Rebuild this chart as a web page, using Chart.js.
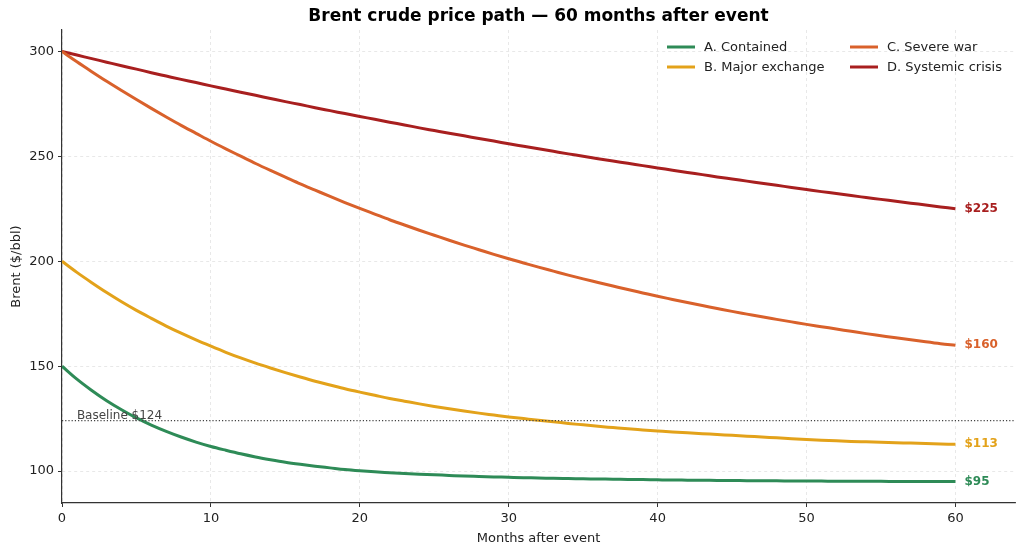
<!DOCTYPE html>
<html>
<head>
<meta charset="utf-8">
<script src="https://cdn.jsdelivr.net/npm/chart.js@4/dist/chart.umd.min.js"></script>
<style>
  html, body { margin: 0; padding: 0; background: #fff; }
  #wrap { width: 1024px; height: 554px; }
</style>
</head>
<body>
<div id="wrap"><canvas id="chart" width="1024" height="554"></canvas></div>
<script>
// months after event
const months = [0,1,2,3,4,5,6,7,8,9,10,11,12,13,14,15,16,17,18,19,20,
  21,22,23,24,25,26,27,28,29,30,31,32,33,34,35,36,37,38,39,40,
  41,42,43,44,45,46,47,48,49,50,51,52,53,54,55,56,57,58,59,60];

// Brent $/bbl
const contained = [150,143.8,138.4,133.5,129.2,125.3,121.9,118.9,116.2,113.8,111.7,
  109.9,108.2,106.7,105.4,104.2,103.2,102.3,101.5,100.7,100.1,
  99.6,99.2,98.8,98.5,98.2,97.9,97.6,97.4,97.2,97.0,
  96.8,96.7,96.5,96.4,96.3,96.2,96.1,96.0,95.9,95.8,
  95.7,95.65,95.6,95.5,95.45,95.4,95.35,95.3,95.25,95.2,
  95.18,95.15,95.12,95.1,95.07,95.05,95.03,95.01,95.0,94.98];
const majorExchange = [200,194.7,189.8,185.1,180.7,176.6,172.8,169.1,165.7,162.5,159.5,
  156.6,153.9,151.4,149.1,146.9,144.8,142.8,141.0,139.2,137.6,
  136.1,134.6,133.3,132.0,130.8,129.7,128.6,127.6,126.7,125.8,
  125.0,124.2,123.5,122.7,122.0,121.3,120.7,120.1,119.6,119.1,
  118.6,118.2,117.8,117.4,117.0,116.6,116.2,115.8,115.4,115.0,
  114.7,114.4,114.1,113.9,113.7,113.5,113.3,113.1,112.9,112.7];
const severeWar = [300,295.1,290.4,285.8,281.4,277.1,272.9,268.8,264.8,261.0,257.2,
  253.6,250.1,246.6,243.3,240.1,236.9,233.9,230.9,228.0,225.2,
  222.5,219.8,217.3,214.8,212.4,210.0,207.7,205.5,203.3,201.2,
  199.2,197.2,195.3,193.4,191.6,189.9,188.2,186.5,184.9,183.3,
  181.8,180.3,178.9,177.5,176.1,174.8,173.5,172.3,171.1,169.9,
  168.8,167.7,166.6,165.5,164.5,163.5,162.6,161.6,160.7,160.0];
const systemic = [300,298.3,296.6,294.9,293.2,291.6,289.9,288.3,286.7,285.2,283.6,
  282.1,280.6,279.1,277.6,276.1,274.7,273.2,271.8,270.4,269.0,
  267.7,266.3,265.0,263.6,262.3,261.0,259.8,258.5,257.3,256.0,
  254.8,253.6,252.4,251.2,250.1,248.9,247.8,246.7,245.6,244.5,
  243.4,242.3,241.3,240.2,239.2,238.2,237.2,236.2,235.2,234.2,
  233.2,232.3,231.3,230.4,229.5,228.6,227.7,226.8,225.9,225.0];

const labels = ['A. Contained', 'B. Major exchange', 'C. Severe war', 'D. Systemic crisis'];
const colors = ['#2e8b57', '#e3a21a', '#d9612b', '#a81f1f'];
const baseline = 124;
const xTicks = [0, 10, 20, 30, 40, 50, 60];
const yTicks = [100, 150, 200, 250, 300];
const title = 'Brent crude price path — 60 months after event';

const FONT = "'DejaVu Sans', sans-serif";

function pts(vals) {
  return vals.map((v, i) => ({ x: months[i], y: v }));
}

const series = [contained, majorExchange, severeWar, systemic];

// title, baseline, end labels and legend
const extras = {
  id: 'extras',
  afterDatasetsDraw(chart) {
    const ctx = chart.ctx;
    const xs = chart.scales.x, ys = chart.scales.y;
    const area = chart.chartArea;
    ctx.save();

    // title centred over the axes
    ctx.fillStyle = '#000';
    ctx.font = 'bold 17px ' + FONT;
    ctx.textAlign = 'center';
    ctx.textBaseline = 'middle';
    ctx.fillText(title, (area.left + area.right) / 2, 17);

    // baseline
    const by = ys.getPixelForValue(baseline);
    ctx.strokeStyle = '#444';
    ctx.lineWidth = 1.1;
    ctx.setLineDash([1.2, 2]);
    ctx.beginPath();
    ctx.moveTo(area.left, by);
    ctx.lineTo(area.right, by);
    ctx.stroke();
    ctx.setLineDash([]);
    ctx.fillStyle = '#444';
    ctx.font = '12px ' + FONT;
    ctx.textAlign = 'left';
    ctx.textBaseline = 'alphabetic';
    ctx.fillText('Baseline $' + baseline, xs.getPixelForValue(1), by - 2);

    // end labels
    ctx.font = 'bold 12px ' + FONT;
    ctx.textBaseline = 'middle';
    chart.data.datasets.forEach((ds, i) => {
      const last = ds.data[ds.data.length - 1];
      ctx.fillStyle = colors[i];
      ctx.fillText('$' + Math.round(last.y), xs.getPixelForValue(last.x) + 9, ys.getPixelForValue(last.y));
    });

    // legend, 2 columns
    const cols = [667, 850];
    const rows = [47, 67];
    ctx.font = '13px ' + FONT;
    chart.data.datasets.forEach((ds, i) => {
      const cx = cols[Math.floor(i / 2)], cy = rows[i % 2];
      ctx.strokeStyle = colors[i];
      ctx.lineWidth = 3;
      ctx.beginPath();
      ctx.moveTo(cx, cy);
      ctx.lineTo(cx + 28, cy);
      ctx.stroke();
      ctx.fillStyle = '#222';
      ctx.fillText(ds.label, cx + 37, cy + 1);
    });
    ctx.restore();
  }
};

new Chart(document.getElementById('chart'), {
  type: 'line',
  data: {
    datasets: series.map((vals, i) => ({
      label: labels[i],
      data: pts(vals),
      borderColor: colors[i],
      borderWidth: 3,
      pointRadius: 0,
      cubicInterpolationMode: 'monotone',
      fill: false
    }))
  },
  options: {
    responsive: false,
    animation: false,
    layout: { padding: { left: 0, right: 9, top: 30, bottom: 0 } },
    plugins: {
      legend: { display: false },
      tooltip: { enabled: false },
      title: { display: false }
    },
    scales: {
      x: {
        type: 'linear',
        min: 0,
        max: 64,
        afterBuildTicks: s => { s.ticks = xTicks.map(v => ({ value: v })); },
        afterFit: s => { s.height = 51; },
        ticks: { color: '#222', font: { family: FONT, size: 13 }, padding: 4, maxRotation: 0 },
        grid: { color: '#e2e2e2', lineWidth: 0.8, tickColor: '#333', tickLength: 4, tickWidth: 1 },
        border: { display: true, color: '#333', width: 1.2, dash: [3, 3] },
        title: {
          display: true,
          text: 'Months after event',
          color: '#222',
          font: { family: FONT, size: 13 },
          padding: { top: 4, bottom: 8 }
        }
      },
      y: {
        type: 'linear',
        min: 84.75,
        max: 310.25,
        afterBuildTicks: s => { s.ticks = yTicks.map(v => ({ value: v })); },
        afterFit: s => { s.width = 62; },
        ticks: { color: '#222', font: { family: FONT, size: 13 }, padding: 4 },
        grid: { color: '#e2e2e2', lineWidth: 0.8, tickColor: '#333', tickLength: 4, tickWidth: 1 },
        border: { display: true, color: '#333', width: 1.2, dash: [3, 3] },
        title: {
          display: true,
          text: 'Brent ($/bbl)',
          color: '#222',
          font: { family: FONT, size: 13 },
          padding: { top: 9, bottom: 4 }
        }
      }
    }
  },
  plugins: [extras]
});
</script>
</body>
</html>
